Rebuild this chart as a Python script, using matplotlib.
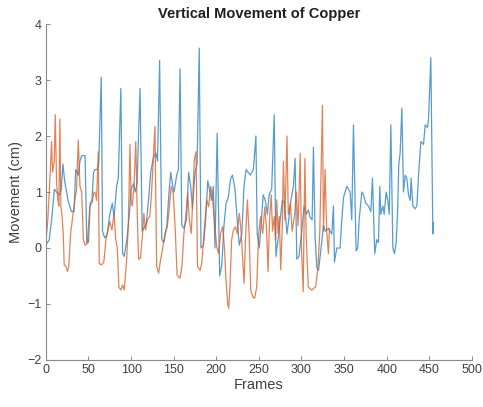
import matplotlib
matplotlib.use("Agg")
import matplotlib.pyplot as plt

# blue series (frame, movement in cm)
blue_frames = [0, 4, 7, 10, 12.5, 16, 18, 20, 22, 26, 30, 33, 35, 38, 40, 42, 46, 48, 50, 52,
               54, 56, 57.5, 60, 62, 65, 66.5, 69, 72, 75, 78, 80, 83, 85, 88, 90, 92, 95, 98, 100,
               103, 105, 107, 110.5, 113, 115, 118, 121, 123, 126, 129, 131, 133.5, 136, 138.5, 142,
               144.5, 146.5, 149, 150.5, 153.5, 155.5, 157.5, 159.5, 162, 165, 167.5, 170, 172, 175,
               177.5, 180, 182, 185, 187.5, 190, 192.5, 194.5, 196.5, 198.5, 201, 204, 206.5, 209,
               211.5, 214, 217, 219, 222, 225, 227, 230, 232.5, 235, 237.5, 240, 243.5, 246.5, 248,
               250.5, 253, 255, 257.5, 260, 262, 265, 268, 270, 272.5, 275, 277.5, 280, 283, 285,
               287.5, 290.5, 292.5, 294.5, 297, 300, 303, 305.5, 308, 310, 312.5, 314, 316, 318, 320,
               323, 325.8, 328, 331.6, 335.6, 337.5, 338.7, 341.4, 345.3, 347.3, 349.3, 353.2, 357.1,
               359, 361, 364.1, 366, 367.7, 370.8, 372.7, 375.5, 378.6, 381.4, 383.3, 386, 388.4,
               390.4, 391.9, 393.1, 395.5, 397, 399.4, 401.3, 403, 404.9, 407.2, 409.2, 411.1, 412.7,
               414.2, 415.8, 417.8, 419.7, 421.7, 423.6, 425.6, 427.6, 428.7, 430.7, 433.4, 435.4,
               437.4, 440.1, 443.2, 445.2, 447.9, 449.1, 451.8, 454.2, 455]
blue_vals = [0.05, 0.15, 0.55, 1.05, 1.0, 0.95, 1.05, 1.5, 1.2, 0.85, 0.65, 0.65, 1.4, 1.3, 1.55,
             1.65, 1.65, 0.1, 0.1, 0.8, 0.85, 1.35, 1.4, 1.4, 1.5, 3.05, 0.3, 0.18, 0.25, 0.6, 0.8,
             0.55, 1.1, 1.25, 2.85, -0.1, -0.15, 0.15, 0.6, 1.05, 1.15, 1.0, 1.15, 2.85, 0.3, 0.35,
             0.45, 0.95, 1.35, 1.6, 1.7, 1.55, 3.35, 0.15, 0.1, 0.4, 1.0, 1.35, 1.1, 1.0, 1.3, 1.4,
             3.2, 0.4, 0.35, 0.5, 1.35, 1.1, 0.7, 1.35, 1.5, 3.57, 0.0, 0.05, 0.5, 1.2, 1.0, 0.85,
             1.1, 0.0, 2.05, -0.5, -0.3, 0.4, 0.8, 0.9, 1.25, 1.3, 1.05, 0.4, 0.05, 0.25, 1.1, 1.4,
             1.35, 1.3, 1.4, 2.0, 0.25, 0.0, 0.5, 0.95, 0.85, 0.6, 0.95, 1.05, 2.38, -0.15, 0.15,
             0.5, 0.85, 0.8, 0.25, 0.5, 0.85, 1.1, 1.6, -0.2, -0.15, 0.25, 0.75, 0.6, 0.68, 0.55,
             0.5, 1.8, 0.2, -0.35, -0.4, 0.0, 0.4, 0.3, 0.35, 0.25, 0.75, -0.25, 0.0, 0.0, 0.5, 0.9,
             1.1, 1.0, 0.5, 2.2, -0.05, 0.0, 0.5, 1.0, 0.95, 0.8, 0.75, 0.65, 1.25, -0.1, 0.15, 0.1,
             1.1, 0.6, 0.75, 0.6, 1.0, 0.85, 0.6, 2.2, 0.0, -0.1, 0.1, 0.6, 1.5, 1.7, 2.5, 1.0, 1.3,
             1.25, 0.95, 0.85, 1.25, 0.75, 0.7, 0.75, 1.3, 1.9, 1.85, 2.2, 2.15, 2.3, 3.4, 0.25, 0.45]

# orange series
orange_frames = [0, 2, 4, 6.7, 7.8, 9.8, 11, 12.5, 14, 15.3, 16.4, 17.6, 18.8, 20.4, 21.5, 23.5,
                 25.5, 27, 29, 32, 34, 36, 38, 40, 42, 44, 46, 48.5, 51.7, 54, 56.4, 58, 59.5, 61.5,
                 62.6, 65.4, 68, 70.5, 73, 75, 77.5, 80, 82, 83.8, 85.7, 88, 90, 92, 94.8, 96.7,
                 98.7, 100, 101.4, 103.4, 105.5, 107.3, 108.8, 111, 113.5, 115, 117, 119, 122, 124,
                 126, 128, 130, 132.3, 134.7, 136, 139.8, 142.5, 145, 147, 149.5, 152, 154, 157.4,
                 159.7, 162, 164.5, 166.4, 168.4, 170.7, 172.3, 174.2, 176.2, 178, 181, 183, 185.6,
                 188.7, 191, 193.4, 195.4, 197.7, 200.5, 202.8, 205, 207.5, 209.5, 211.4, 213.4,
                 214.6, 216, 218, 220, 222.4, 224.7, 227, 229, 231, 232.6, 234.5, 236.5, 238.5,
                 240.4, 242.8, 245, 247.5, 249.8, 252, 254.5, 257, 259, 260.8, 262.5, 264.5, 266,
                 268, 269.4, 271, 272.5, 274, 275.6, 277.5, 278.8, 280.5, 283, 284.5, 287, 289, 292,
                 294, 296, 298.5, 300, 302, 304, 305.5, 308, 312, 316.8, 319.5, 321.5, 324.6, 325.8,
                 327.7, 329.6, 331.6, 332.8]
orange_vals = [0.1, 0.45, 1.0, 1.9, 1.35, 1.55, 2.38, 1.2, 0.85, 0.75, 2.3, 0.75, 0.6, 0.25, -0.3,
               -0.33, -0.42, -0.3, 0.25, 0.62, 0.85, 1.05, 1.93, 1.1, 1.0, 0.15, 0.05, 0.08, 0.75,
               0.8, 1.0, 0.98, 0.85, 1.72, -0.28, -0.3, -0.25, 0.15, 0.32, 0.47, 0.32, 0.62, 0.15,
               0.0, -0.7, -0.75, -0.66, -0.75, -0.2, 0.38, 1.85, 0.85, 0.75, 1.1, 1.9, 0.56, -0.2,
               -0.18, 0.26, 0.62, 0.32, 0.5, 0.56, 0.98, 1.57, 2.17, -0.33, -0.45, -0.2, -0.1, 0.26,
               0.38, 0.74, 1.1, 0.98, 0.26, -0.48, -0.54, -0.33, 0.26, 0.62, 0.98, 0.5, 0.26, 0.86,
               1.57, 1.72, -0.33, -0.4, -0.27, 0.26, 0.86, 0.74, 1.1, 0.92, 0.5, 0.02, -0.1, 0.26,
               0.38, 0.02, -0.57, -1.0, -1.08, -0.69, 0.14, 0.32, 0.38, 0.26, 0.62, 0.32, -0.2,
               -0.63, 0.26, 0.86, 0.26, -0.75, -0.87, -0.9, -0.69, 0.26, 0.56, 0.26, 0.74, 0.32,
               -0.42, 0.5, 0.95, 0.3, 0.56, 0.14, 0.86, 0.26, 0.56, -0.39, 0.4, 1.55, 0.5, 2.0, 0.6,
               0.8, 0.3, 0.6, 1.0, 0.4, 1.69, 0.0, -0.78, 1.6, 0.2, -0.7, -0.75, -0.69, -0.3, 0.3,
               2.55, 0.3, 1.4, 0.3, -0.1, 0.35]

x_ticks = [0, 50, 100, 150, 200, 250, 300, 350, 400, 450, 500]
y_ticks = [-2, -1, 0, 1, 2, 3, 4]

plt.rcParams['font.family'] = ['Liberation Sans', 'DejaVu Sans']

fig = plt.figure(figsize=(4.83, 4.07), dpi=100)
ax = fig.add_axes([0.095, 0.1155, 0.882, 0.8255])

ax.plot(blue_frames, blue_vals, color='#1f7bbf', linewidth=0.9, alpha=0.75)
ax.plot(orange_frames, orange_vals, color='#d9581f', linewidth=0.9, alpha=0.75)

ax.set_xlim(0, 500)
ax.set_ylim(-2, 4)
ax.set_xticks(x_ticks)
ax.set_yticks(y_ticks)

for side in ['top', 'right']:
    ax.spines[side].set_visible(False)
for side in ['left', 'bottom']:
    ax.spines[side].set_color('#8a8a8a')
    ax.spines[side].set_linewidth(0.8)

ax.tick_params(direction='in', length=3, width=0.7, color='#8a8a8a',
               labelsize=9, labelcolor='#404040', pad=3)

ax.set_title('Vertical Movement of Copper', fontsize=10.5, fontweight='bold',
             color='#202020', pad=4)
ax.set_xlabel('Frames', fontsize=10.5, color='#404040', labelpad=1)
ax.set_ylabel('Movement (cm)', fontsize=10.5, color='#404040', labelpad=3)

fig.savefig('out.png', dpi=100)
